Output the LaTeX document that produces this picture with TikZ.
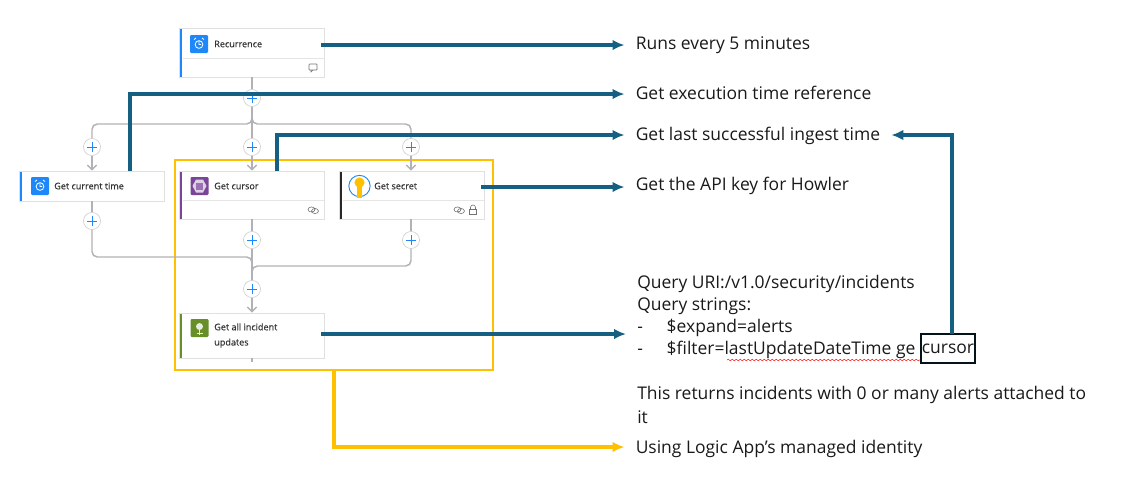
\documentclass[tikz,border=0pt]{standalone}
\usepackage{fontspec}
\setmainfont{Open Sans}
\newfontfamily\cardfont[FakeBold=0.35]{Open Sans}
\usetikzlibrary{arrows.meta,shadows,decorations.pathmorphing}
\definecolor{noteteal}{RGB}{21,96,130}
\definecolor{noteyellow}{RGB}{255,192,0}
\definecolor{wiregrey}{RGB}{178,178,182}
\definecolor{azureblue}{RGB}{30,136,250}
\definecolor{cursorpurple}{RGB}{122,68,152}
\definecolor{sentinelgreen}{RGB}{104,142,42}
\definecolor{vaultblack}{RGB}{40,40,40}
\tikzset{
  card/.style={shape=rectangle,minimum width=145*0.75pt,fill=white,draw=black!12,line width=0.4pt,
    drop shadow={shadow xshift=0.5pt,shadow yshift=-0.7pt,opacity=0.25},
    path picture={\fill[#1] (path picture bounding box.north west) rectangle ([xshift=2pt]path picture bounding box.south west);}},
  cardtitle/.style={anchor=west,inner sep=0pt,font=\cardfont\fontsize{6.8pt}{11.4pt}\selectfont,text=black!80,align=left},
  iconbox/.style={shape=rectangle,rounded corners=0.8pt,minimum size=13.5pt,inner sep=0pt,fill=#1},
  plusbtn/.style={shape=circle,minimum size=12.8pt,inner sep=0pt,fill=white,draw=black!18,line width=0.5pt,
    path picture={\draw[azureblue,line width=0.65pt] ([yshift=-3pt]path picture bounding box.north) -- ([yshift=3pt]path picture bounding box.south)
      ([xshift=3pt]path picture bounding box.west) -- ([xshift=-3pt]path picture bounding box.east);}},
  wire/.style={draw=wiregrey,line width=1.1pt},
  wirearrow/.style={wire,-{Straight Barb[length=3.5pt,width=7pt]}},
  tealarrow/.style={draw=noteteal,line width=2.5pt,-{Latex[length=9pt,width=8pt]}},
  yellowarrow/.style={draw=noteyellow,line width=2.6pt,-{Latex[length=9pt,width=8pt]}},
  note/.style={anchor=west,inner xsep=8.25pt,inner ysep=0pt,font=\fontsize{13.1pt}{16pt}\selectfont,text=black!90},
  glyph/.style={draw=black!55,line width=0.45pt},
}
\begin{document}
\begin{tikzpicture}[x=0.75pt,y=-0.75pt]
\useasboundingbox (0,0) rectangle (1140,480);

% selection frame
\path (334,265) node (frame) [shape=rectangle,minimum width=318*0.75pt,minimum height=210*0.75pt,draw=noteyellow,line width=1.6pt] {};

% cards
\path (252,52.5) node (recur) [card=azureblue,minimum height=49*0.75pt] {};
\path (92,186) node (curtime) [card=azureblue,minimum height=30*0.75pt] {};
\path (252,195) node (cursor) [card=cursorpurple,minimum height=48*0.75pt] {};
\path (412,195) node (secret) [card=vaultblack,minimum height=48*0.75pt] {};
\path (252,335.5) node (incident) [card=sentinelgreen,minimum height=45*0.75pt] {};
\draw [black!10,line width=0.4pt] (183,58) -- (324,58) (183,200) -- (324,200) (343,200) -- (484,200);

% icons
\path (199,44) node (recuricon) [iconbox=azureblue] {};
\path (40,186) node (timeicon) [iconbox=azureblue] {};
\path (199.5,186) node (cursoricon) [iconbox=cursorpurple] {};
\path (359.5,186) node (secreticon) [shape=circle,minimum size=16pt,inner sep=0pt,fill=white,draw=azureblue,line width=0.7pt] {};
\path (199.5,328) node (incidenticon) [iconbox=sentinelgreen] {};
\draw [white,line width=0.6pt] (recuricon) ++(0,0.5) circle (2.9pt) ++(0,-3) -- ++(0,3) -- ++(2,0) (recuricon) ++(-5,-4.5) -- ++(2,-1.5) (recuricon) ++(5,-4.5) -- ++(-2,-1.5);
\draw [white,line width=0.6pt] (timeicon) ++(0,0.5) circle (2.9pt) ++(0,-3) -- ++(0,3) -- ++(2,0) (timeicon) ++(-5,-4.5) -- ++(2,-1.5) (timeicon) ++(5,-4.5) -- ++(-2,-1.5);
\fill [white!75!cursorpurple] (cursoricon) ++(-3.5,-6.5) -- ++(7,0) -- ++(3.5,6.5) -- ++(-3.5,6.5) -- ++(-7,0) -- ++(-3.5,-6.5) -- cycle;
\fill [cursorpurple!75!white] (cursoricon) ++(-3.5,-3.5) rectangle ++(7,7);
\fill [noteyellow] (secreticon) ++(0,-3.5) circle (3.8pt);
\fill [noteyellow] (357,186) rectangle (362,197.5);
\fill [white!85!sentinelgreen] (incidenticon) ++(0,-1.5) circle (2.6pt);
\draw [white!85!sentinelgreen,line width=0.5pt] (incidenticon) ++(0,2) -- ++(0,5) ++(-3,-2) -- ++(6,0);

% card titles
\path (214,44) node (recurtitle) [cardtitle] {Recurrence};
\path (54,186) node (timetitle) [cardtitle] {Get current time};
\path (214,186) node (cursortitle) [cardtitle] {Get cursor};
\path (374,186) node (secrettitle) [cardtitle] {Get secret};
\path (214,335.5) node (incidenttitle) [cardtitle] {Get all incident\\updates};

% footer glyphs
\draw [glyph,rounded corners=0.5pt] (309,64) rectangle (317,70);
\draw [glyph] (311,70) -- (311,72) -- (313,70);
\draw [glyph] (311.5,209.5) ellipse (2.6pt and 1.9pt) (315,211) ellipse (2.6pt and 1.9pt);
\draw [glyph] (457.5,209.5) ellipse (2.6pt and 1.9pt) (461,211) ellipse (2.6pt and 1.9pt);
\draw [glyph] (469.5,209) rectangle (476.5,214.5);
\draw [glyph] (470.5,209) -- (470.5,207.5) arc (180:360:2.5) -- (475.5,209);

% add buttons
\path (252,98) node (plusroot) [plusbtn] {};
\path (92,147) node (plustime) [plusbtn] {};
\path (252,147) node (pluscursor) [plusbtn] {};
\path (411,147) node (plussecret) [plusbtn] {};
\path (92,221) node (plustimeout) [plusbtn] {};
\path (252,240) node (pluscursorout) [plusbtn] {};
\path (411,240) node (plussecretout) [plusbtn] {};
\path (252,289) node (plusmerge) [plusbtn] {};

% grey flow
\coordinate (forkleft) at (92,124);
\coordinate (forkright) at (411,124);
\coordinate (mergeleft) at (92,257);
\coordinate (mergeright) at (411,266);
\coordinate (tailend) at (252,362);
\draw [wire] (recur) -- (plusroot);
\draw [wire] (plusroot) -- (pluscursor);
\draw [wire,rounded corners=4pt] (plusroot.south) |- (forkleft) -- (plustime.north);
\draw [wire,rounded corners=4pt] (plusroot.south) |- (forkright) -- (plussecret.north);
\draw [wirearrow] (plustime) -- (plustime |- curtime.north);
\draw [wirearrow] (pluscursor) -- (pluscursor |- cursor.north);
\draw [wirearrow] (plussecret) -- (plussecret |- secret.north);
\draw [wire] (plustime |- curtime.south) -- (plustimeout);
\draw [wire] (pluscursor |- cursor.south) -- (pluscursorout);
\draw [wire] (plussecret |- secret.south) -- (plussecretout);
\draw [wire,rounded corners=4pt] (plustimeout) -- (mergeleft) -| (plusmerge.north);
\draw [wire,rounded corners=4pt] (plussecretout) -- (mergeright) -| (plusmerge.north);
\draw [wire] (pluscursorout) -- (plusmerge);
\draw [wirearrow] (plusmerge) -- (plusmerge |- incident.north);
\draw [wire] (plusmerge |- incident.south) -- (tailend);

% notes
\path (624.5,45) node (noterun) [note] {Runs every 5 minutes};
\path (624.5,93) node (noteref) [note] {Get execution time reference};
\path (624.5,136) node (noteingest) [note] {Get last successful ingest time};
\path (624.5,186) node (noteapi) [note] {Get the API key for Howler};
\path (626,284) node (noteuri) [note] {Query URI:/v1.0/security/incidents};
\path (626,306) node (notestrings) [note] {Query strings:};
\path (626,328) node (noteexpand) [note] {\makebox[22.1pt][l]{-}\$expand=alerts};
\path (626,350) node (notefilter) [note] {\makebox[22.1pt][l]{-}\$filter=lastUpdateDateTime ge};
\path (948,348.5) node (cursorbox) [shape=rectangle,minimum width=54*0.75pt,minimum height=29*0.75pt,inner sep=0pt,draw=black!80!noteteal,line width=1.1pt,font=\fontsize{13.1pt}{16pt}\selectfont,text=black!90] {cursor};
\path (626,395) node (notereturns) [note] {This returns incidents with 0 or many alerts attached to};
\path (626,417) node (noteit) [note] {it};
\path (624.5,449) node (noteidentity) [note] {Using Logic App's managed identity};
\draw [red!80,line width=0.45pt,decorate,decoration={snake,amplitude=0.6pt,segment length=3pt}] (727,360) -- (920,360);

% teal and yellow call-outs
\coordinate (recurout) at (321,45);
\coordinate (timeout) at (130,171);
\coordinate (cursorout) at (277,171);
\coordinate (secretout) at (481,187);
\coordinate (incidentout) at (321,334);
\coordinate (boxout) at (952,334);
\coordinate (frameout) at (334,370);
\draw [tealarrow] (recurout) -- (noterun.west |- recurout);
\draw [tealarrow] (timeout) |- (noteref.west |- 0,94);
\draw [tealarrow] (cursorout) |- (noteingest.west |- 0,135);
\draw [tealarrow] (secretout) -- (noteapi.west |- secretout);
\draw [tealarrow] (incidentout) -- (noteexpand.west |- incidentout);
\draw [tealarrow] (boxout) |- (noteingest.east |- 0,135);
\draw [yellowarrow] (frameout) |- (noteidentity.west |- 0,447);
\end{tikzpicture}
\end{document}
